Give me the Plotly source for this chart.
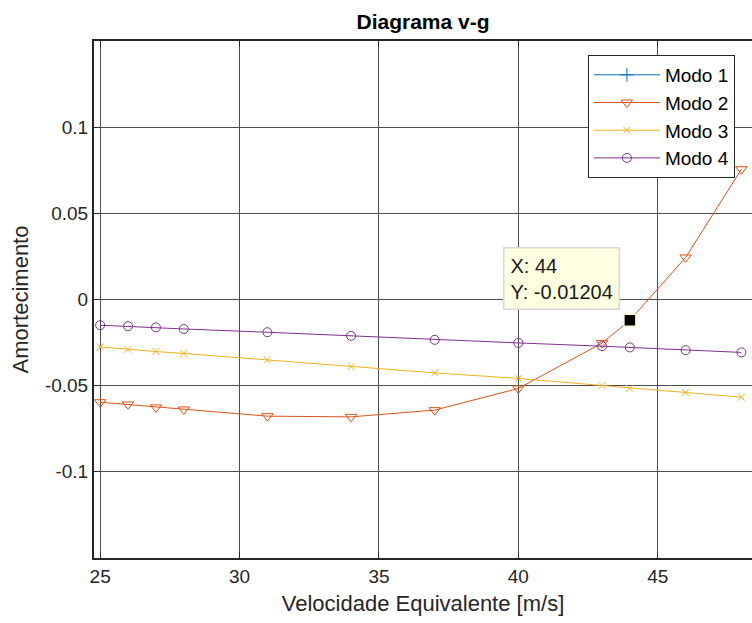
import plotly.graph_objects as go

# ---- data ----
velocity = [25, 26, 27, 28, 31, 34, 37, 40, 43, 44, 46, 48]
mode1_g = []  # Modo 1 has no points inside the visible range
mode2_g = [-0.0596, -0.0609, -0.0626, -0.0638, -0.0677, -0.0681, -0.0642, -0.0516, -0.0253, -0.01204, 0.0244, 0.0756]
mode3_g = [-0.0275, -0.0290, -0.0302, -0.0313, -0.0350, -0.0389, -0.0426, -0.0458, -0.0499, -0.0516, -0.0540, -0.0567]
mode4_g = [-0.0149, -0.0155, -0.0162, -0.0171, -0.0190, -0.0211, -0.0234, -0.0252, -0.0271, -0.0278, -0.0294, -0.0307]

series_names = ["Modo 1", "Modo 2", "Modo 3", "Modo 4"]
xtick_vals = [25, 30, 35, 40, 45]
xtick_text = ["25", "30", "35", "40", "45"]
ytick_vals = [-0.1, -0.05, 0, 0.05, 0.1]
ytick_text = ["-0.1", "-0.05", "0", "0.05", "0.1"]

tip_x = 44
tip_y = -0.01204

colors = ["#0072BD", "#D95319", "#EDB120", "#7E2F8E"]
symbols = ["cross-thin-open", "triangle-down-open", "x-thin-open", "circle-open"]
sizes = [10, 10, 7, 9]

FONT = "Liberation Sans, Arial, sans-serif"
AX = "#262626"

fig = go.Figure()
all_y = [mode1_g, mode2_g, mode3_g, mode4_g]
for i, (name, ys) in enumerate(zip(series_names, all_y)):
    xs = velocity if ys else [None]
    yy = ys if ys else [None]
    fig.add_trace(go.Scatter(
        x=xs, y=yy, name=name, mode="lines+markers",
        line=dict(color=colors[i], width=1),
        marker=dict(symbol=symbols[i], size=sizes[i], color=colors[i],
                    line=dict(color=colors[i], width=1)),
    ))

# data tip marker
fig.add_trace(go.Scatter(
    x=[tip_x], y=[tip_y], mode="markers", showlegend=False,
    marker=dict(symbol="square", size=12, color="black",
                line=dict(color="#FFFFD0", width=1.5)),
))

fig.add_annotation(
    x=tip_x, y=tip_y, xref="x", yref="y",
    text="X: 44<br>Y: -0.01204", showarrow=False,
    xanchor="right", yanchor="bottom", xshift=-10, yshift=10,
    align="left", bgcolor="#FFFFE1", bordercolor="#D8D8D8", borderwidth=1.5,
    borderpad=6, font=dict(family=FONT, size=20, color="#1a1a1a"),
)

fig.update_layout(
    width=752, height=623,
    margin=dict(l=94, r=0, t=41, b=65),
    paper_bgcolor="white", plot_bgcolor="white",
    font=dict(family=FONT, color=AX),
    title=dict(text="<b>Diagrama v-g</b>", x=0.5, xref="paper", xanchor="center",
               y=1 - 22 / 623, yanchor="middle", font=dict(size=21, color="black")),
    legend=dict(x=0.974, y=0.973, xanchor="right", yanchor="top",
                bgcolor="white", bordercolor=AX, borderwidth=1,
                font=dict(family=FONT, size=19, color="black"),
                itemwidth=66, tracegroupgap=0),
    showlegend=True,
)

fig.update_xaxes(
    range=[24.78, 48.38], tickvals=xtick_vals, ticktext=xtick_text,
    showgrid=True, gridcolor="#4d4d4d", gridwidth=1,
    showline=True, linecolor=AX, linewidth=2, mirror="ticks",
    ticks="inside", ticklen=6, tickcolor=AX,
    tickfont=dict(size=19, color=AX), zeroline=False,
    title=dict(text="Velocidade Equivalente [m/s]", font=dict(size=22, color=AX), standoff=10),
)
fig.update_yaxes(
    range=[-0.15, 0.15], tickvals=ytick_vals, ticktext=ytick_text,
    showgrid=True, gridcolor="#4d4d4d", gridwidth=1,
    showline=True, linecolor=AX, linewidth=2, mirror=False,
    ticks="inside", ticklen=6, tickcolor=AX,
    tickfont=dict(size=19, color=AX), zeroline=False,
    title=dict(text="Amortecimento", font=dict(size=22, color=AX), standoff=10),
)

fig.write_html("out.html")
